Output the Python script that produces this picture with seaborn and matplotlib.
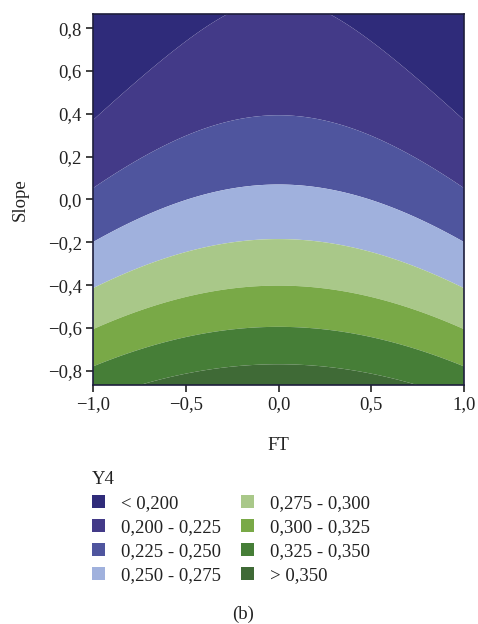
import numpy as np
import pandas as pd
import seaborn as sns
import matplotlib
matplotlib.use("Agg")
import matplotlib.pyplot as plt
from matplotlib.patches import Patch
from matplotlib.ticker import FuncFormatter

# Fitted response-surface model for Y4 (coded factors FT and Slope)
term_names = ["const", "Slope", "Slope^2", "FT^2"]
term_coefs = [0.2564, -0.0940, 0.0360, -0.0265]

# Contour class boundaries and legend labels
levels = [0.200, 0.225, 0.250, 0.275, 0.300, 0.325, 0.350]
class_labels = ["< 0,200", "0,200 - 0,225", "0,225 - 0,250", "0,250 - 0,275",
                "0,275 - 0,300", "0,300 - 0,325", "0,325 - 0,350", "> 0,350"]
class_colors = ["#2f2b7a", "#433a88", "#4f559e", "#a0b1dd",
                "#a9c889", "#79a947", "#467e37", "#3f6a36"]

ft_range = [-1.0, 1.0]
slope_range = [-0.866, 0.866]
x_ticks = [-1.0, -0.5, 0.0, 0.5, 1.0]
y_ticks = [-0.8, -0.6, -0.4, -0.2, 0.0, 0.2, 0.4, 0.6, 0.8]

sns.set_style("ticks")
plt.rcParams["font.family"] = ["Liberation Serif", "DejaVu Serif"]
plt.rcParams["axes.unicode_minus"] = True

FS = 13.5
TXT = "#222222"

coef = dict(zip(term_names, term_coefs))
ft = np.linspace(*ft_range, 300)
sl = np.linspace(*slope_range, 300)
FT, SL = np.meshgrid(ft, sl)
Y4 = (coef["const"] + coef["Slope"] * SL + coef["Slope^2"] * SL ** 2
      + coef["FT^2"] * FT ** 2)

fig = plt.figure(figsize=(4.78, 6.24), dpi=100)
ax = fig.add_axes([0.1946, 0.383, 0.7761, 0.5946])

palette = sns.color_palette(class_colors)
bounds = [-1.0] + levels + [1.0]
ax.contourf(FT, SL, Y4, levels=bounds, colors=palette, antialiased=True)

ax.set_xlim(*ft_range)
ax.set_ylim(*slope_range)
ax.set_xticks(x_ticks)
ax.set_yticks(y_ticks)

def comma_fmt(v, pos):
    s = f"{v:.1f}".replace(".", ",")
    if s.startswith("-"):
        s = "\u2212" + s[1:]
    if s == "\u22120,0":
        s = "0,0"
    return s

ax.xaxis.set_major_formatter(FuncFormatter(comma_fmt))
ax.yaxis.set_major_formatter(FuncFormatter(comma_fmt))
ax.tick_params(axis="both", direction="out", length=5, width=1.2,
               colors=TXT, labelsize=FS, labelcolor=TXT, pad=3)
for sp in ax.spines.values():
    sp.set_color("#1e1e3c")
    sp.set_linewidth(1.2)

ax.set_xlabel("FT", fontsize=FS, color=TXT, labelpad=17)
ax.set_ylabel("Slope", fontsize=FS, color=TXT, labelpad=14)

handles = [Patch(facecolor=c, edgecolor="none") for c in class_colors]
leg = fig.legend(handles, class_labels, title="Y4", ncol=2,
                 loc="upper left", bbox_to_anchor=(0.165, 0.266),
                 frameon=False, fontsize=FS, title_fontsize=FS,
                 handlelength=0.7, handleheight=0.7, handletextpad=0.85,
                 columnspacing=1.05, labelspacing=0.36, borderpad=0.2)
leg._legend_box.align = "left"
for t in leg.get_texts():
    t.set_color(TXT)
leg.get_title().set_color(TXT)

fig.text(0.508, 0.016, "(b)", ha="center", va="center", fontsize=FS,
         color=TXT)

fig.savefig("out.png", dpi=100, facecolor="white")
